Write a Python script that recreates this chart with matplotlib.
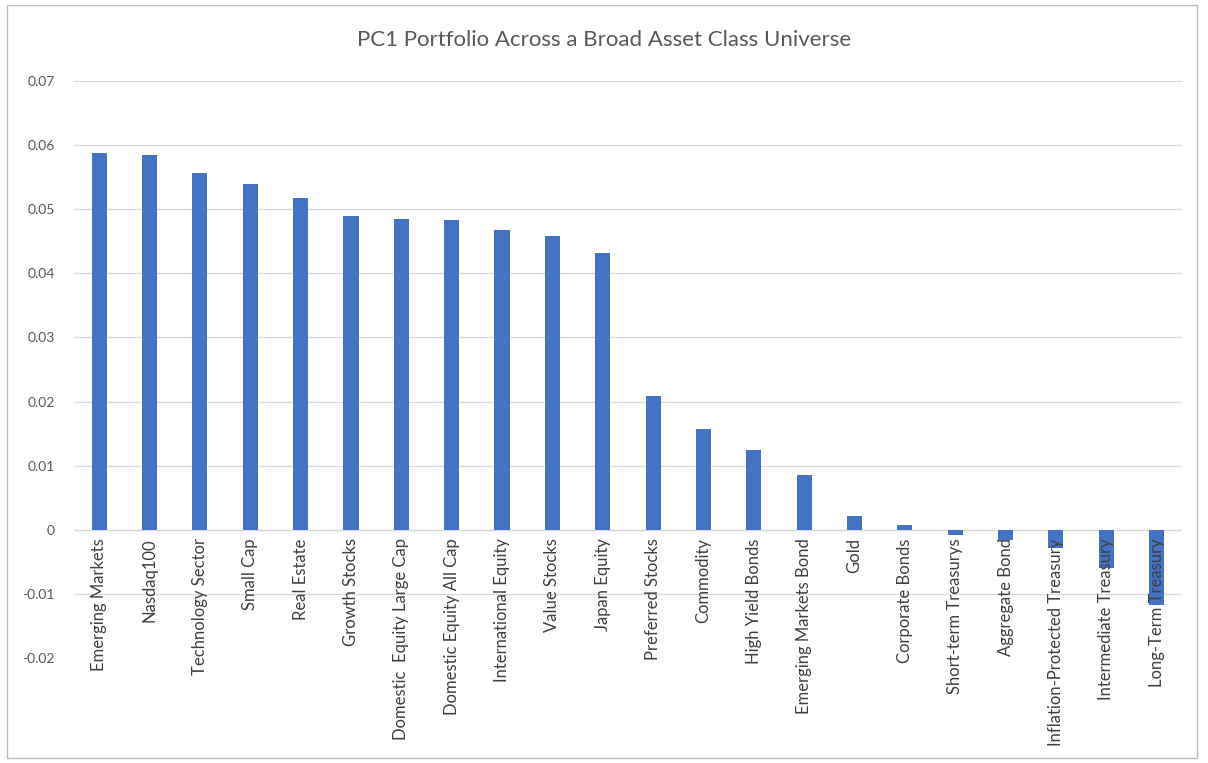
import numpy as np
import matplotlib.pyplot as plt
from matplotlib.patches import Rectangle

plt.rcParams['font.family'] = ['Lato', 'DejaVu Sans']

# Categorias e pesos do PC1
ativos = ["Emerging Markets", "Nasdaq100", "Technology Sector", "Small Cap",
          "Real Estate", "Growth Stocks", "Domestic  Equity Large Cap",
          "Domestic Equity All Cap", "International Equity", "Value Stocks",
          "Japan Equity", "Preferred Stocks", "Commodity", "High Yield Bonds",
          "Emerging Markets Bond", "Gold", "Corporate Bonds",
          "Short-term Treasurys", "Aggregate Bond",
          "Inflation-Protected Treasury", "Intermediate Treasury",
          "Long-Term Treasury"]
pesos = [0.0587, 0.0584, 0.0556, 0.0540, 0.0518, 0.0490, 0.0485, 0.0484,
         0.0468, 0.0459, 0.0432, 0.0209, 0.0158, 0.0125, 0.0085, 0.0021,
         0.0008, -0.0008, -0.0016, -0.0028, -0.0059, -0.0117]
yticks = [-0.02, -0.01, 0, 0.01, 0.02, 0.03, 0.04, 0.05, 0.06, 0.07]
ytick_labels = ["-0.02", "-0.01", "0", "0.01", "0.02", "0.03", "0.04",
                "0.05", "0.06", "0.07"]

cinza = '#595959'
x = np.arange(len(ativos))

fig = plt.figure(figsize=(12.08, 7.63), dpi=100)
ax = fig.add_axes([0.0613, 0.1376, 0.917, 0.7562])

ax.bar(x, pesos, width=0.3, color='#4472C4', zorder=2)

ax.set_xlim(-0.5, len(ativos) - 0.5)
ax.set_ylim(-0.02, 0.07)
ax.set_yticks(yticks)
ax.set_yticklabels(ytick_labels, color=cinza, fontsize=10)
ax.set_xticks([])
ax.tick_params(axis='y', length=0, pad=14)
ax.grid(axis='y', color='#D9D9D9', linewidth=0.9, zorder=0)
ax.axhline(0, color='#D9D9D9', linewidth=0.9, zorder=1)
for lado in ax.spines.values():
    lado.set_visible(False)

# Rotulos das categorias logo abaixo do eixo zero (estilo Excel)
for i, nome in enumerate(ativos):
    ax.text(i, -0.0013, nome, rotation=90, ha='center', va='top',
            fontsize=12, color='#404040', zorder=5)

fig.text(0.5, 0.947, "PC1 Portfolio Across a Broad Asset Class Universe",
         ha='center', va='center', fontsize=16, color=cinza)

# Moldura do grafico
fig.patches.append(Rectangle((0.006, 0.007), 0.985, 0.986,
                             transform=fig.transFigure, fill=False,
                             edgecolor='#BFBFBF', linewidth=1))

fig.savefig('out.png', dpi=100)
